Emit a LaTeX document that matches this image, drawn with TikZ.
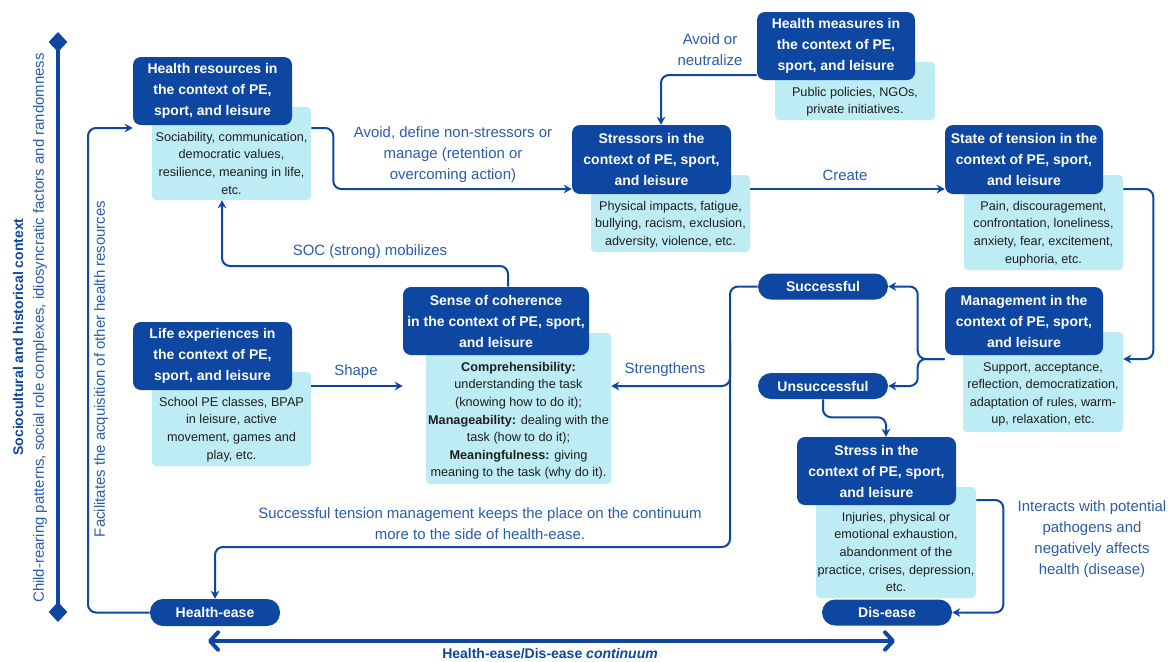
\documentclass[tikz,border=0pt]{standalone}
\usepackage{fontspec}
\setmainfont{Liberation Sans}
\usetikzlibrary{arrows,arrows.meta,shapes,positioning}
\definecolor{darkblue}{HTML}{0D47A1}
\definecolor{paleblue}{HTML}{BEECF5}
\definecolor{labelblue}{HTML}{2A5CAA}
\definecolor{bodygray}{HTML}{1E1E1E}
\newcommand\headfont{\fontsize{10.5}{15.75}\selectfont\bfseries}
\newcommand\bodyfont{\fontsize{9.5}{13.2}\selectfont}
\newcommand\labfont{\fontsize{11.2}{15.75}\selectfont}

\begin{document}
\begin{tikzpicture}[x=0.75pt, y=-0.75pt]
				\tikzstyle{arrow}=[draw=darkblue, line width=1.5pt, rounded corners=6pt, -{Stealth[length=6pt,width=6.5pt]}]
				\tikzstyle{head}=[fill=darkblue, text=white, rounded corners=6pt, align=center, font=\headfont, minimum width=119.25pt, minimum height=51pt, inner sep=1pt]
				\tikzstyle{info}=[fill=paleblue, rounded corners=3pt, minimum width=119.25pt, inner sep=0pt]
				\tikzstyle{detail}=[anchor=north, align=center, font=\bodyfont, text=bodygray, inner sep=0pt, yshift=-5pt]
				\tikzstyle{pill}=[fill=darkblue, text=white, rounded corners=9.75pt, font=\headfont, minimum width=97.5pt, minimum height=19.5pt, inner sep=0pt]
				\tikzstyle{lab}=[text=labelblue, align=center, font=\labfont, inner sep=0pt]
				\newcommand\XAxis{58}
				\newcommand\YTopRow{189}

				\useasboundingbox (0,0) rectangle (1170,661);

				% Context axis
				\coordinate (axtop) at (\XAxis,32);
				\coordinate (axbot) at (\XAxis,622);
				\draw [darkblue, line width=3pt, {Diamond[length=15pt,width=14pt]}-{Diamond[length=15pt,width=14pt]}] (axtop) -- (axbot);
				\node [rotate=90, text=darkblue, font=\headfont, inner sep=0pt] at (18,337) (ctxtitle) {Sociocultural and historical context};
				\node [rotate=90, lab] at (40,328) (ctxtext) {Child-rearing patterns, social role complexes, idiosyncratic factors and randomness};
				\node [rotate=90, lab] at (101,369) (faclab) {Facilitates the acquisition of other health resources};

				% Health resources
				\node [info, minimum height=69.75pt] at (231.5,153.5) (hrl) {};
				\node [head] at (212.5,91) (hr) {Health resources in\\the context of PE,\\sport, and leisure};
				\node [detail] at (hrl.center |- hr.south) (hrd) {Sociability, communication,\\democratic values,\\resilience, meaning in life,\\etc.};

				% Stressors
				\node [info, minimum height=57.75pt] at (670.5,213.5) (stl) {};
				\node [head, minimum height=51.75pt] at (651.5,159.5) (st) {Stressors in the\\context of PE, sport,\\and leisure};
				\node [detail] at (stl.center |- st.south) (std) {Physical impacts, fatigue,\\bullying, racism, exclusion,\\adversity, violence, etc.};

				% Health measures
				\node [info, minimum width=120pt, minimum height=43.5pt] at (855,91) (hml) {};
				\node [head, minimum width=118.5pt] at (836,46) (hm) {Health measures in\\the context of PE,\\sport, and leisure};
				\node [detail] at (hml.center |- hm.south) (hmd) {Public policies, NGOs,\\private initiatives.};

				% State of tension
				\node [info, minimum height=71.25pt] at (1043.5,222.5) (tsl) {};
				\node [head, minimum width=118.5pt, minimum height=51.75pt] at (1024,159.5) (ts) {State of tension in the\\context of PE, sport,\\and leisure};
				\node [detail] at (tsl.center |- ts.south) (tsd) {Pain, discouragement,\\confrontation, loneliness,\\anxiety, fear, excitement,\\euphoria, etc.};

				% Management
				\node [info, minimum width=120pt, minimum height=75pt] at (1043,382) (mgl) {};
				\node [head, minimum width=118.5pt] at (1024,321) (mg) {Management in the\\context of PE, sport,\\and leisure};
				\node [detail] at (mgl.center |- mg.south) (mgd) {Support, acceptance,\\reflection, democratization,\\adaptation of rules, warm-\\up, relaxation, etc.};

				% Stress
				\node [info, minimum width=120pt, minimum height=83.25pt] at (896,542.5) (srl) {};
				\node [head] at (876.5,471) (sr) {Stress in the\\context of PE, sport,\\and leisure};
				\node [detail] at (srl.center |- sr.south) (srd) {Injuries, physical or\\emotional exhaustion,\\abandonment of the\\practice, crises, depression,\\etc.};

				% Sense of coherence
				\node [info, minimum width=138.75pt, minimum height=113.25pt] at (518.5,408.5) (socl) {};
				\node [head, minimum width=139.5pt] at (496,321) (soc) {Sense of coherence\\in the context of PE, sport,\\and leisure};
				\node [detail] at (socl.center |- soc.south) (socd) {\textbf{Comprehensibility:}\\understanding the task\\(knowing how to do it);\\\textbf{Manageability:} dealing with the\\task (how to do it);\\\textbf{Meaningfulness:} giving\\meaning to the task (why do it).};

				% Life experiences
				\node [info, minimum height=70.5pt] at (231.5,419) (lel) {};
				\node [head] at (212.5,356) (le) {Life experiences in\\the context of PE,\\sport, and leisure};
				\node [detail] at (lel.center |- le.south) (led) {School PE classes, BPAP\\in leisure, active\\movement, games and\\play, etc.};

				% Outcomes
				\node [pill] at (823,286.5) (succ) {Successful};
				\node [pill] at (823,386) (unsucc) {Unsuccessful};
				\node [pill, minimum height=20.25pt] at (215,612.5) (he) {Health-ease};
				\node [pill] at (887,612.5) (dis) {Dis-ease};

				% Labels
				\node [lab] at (453,155) (avoidlab) {Avoid, define non-stressors or\\manage (retention or\\overcoming action)};
				\node [lab] at (710,50) (neutlab) {Avoid or\\neutralize};
				\node [lab] at (845,175) (createlab) {Create};
				\node [lab] at (370,252) (moblab) {SOC (strong) mobilizes};
				\node [lab] at (356,372) (shapelab) {Shape};
				\node [lab] at (665,370) (strlab) {Strengthens};
				\node [lab] at (480,524) (keeplab) {Successful tension management keeps the place on the continuum\\more to the side of health-ease.};
				\node [lab] at (1092,539) (interlab) {Interacts with potential\\pathogens and\\negatively affects\\health (disease)};

				% Path Arrows
				\path [arrow] (hrl.east |- 0,128) -- ++(22,0) |- (st.west |- 0,\YTopRow);
				\path [arrow] (hm.west |- 0,75) -| (661,0 |- st.north);
				\path [arrow] (stl.east |- 0,\YTopRow) -- (ts.west |- 0,\YTopRow);
				\path [arrow] (tsl.east |- 0,\YTopRow) -- ++(30,0) |- (mgl.east |- 0,359);
				\path [arrow] (mg.west |- 0,359) -- ++(-27,0) |- (succ.east);
				\path [arrow] (mg.west |- 0,359) -- ++(-27,0) |- (unsucc.east);
				\path [arrow] (unsucc.south) -- ++(0,18) -| (886,0 |- sr.north);
				\path [arrow] (srl.east |- 0,500) -- ++(27,0) |- (dis.east);
				\path [arrow] (succ.west) -| (730,547) -| (he.north);
				\coordinate (split) at (730,340);
				\path [arrow] (split) |- (socl.east |- 0,386);
				\path [arrow] (soc.north -| 508,0) |- (222,266) -- (hrl.south -| 222,0);
				\path [arrow] (lel.east |- 0,386) -- (soc.west |- 0,386);
				\path [arrow] (he.west) -| (88,128) -- (hr.west |- 0,128);

				% Continuum
				\coordinate (contl) at (208,641);
				\coordinate (contr) at (895,641);
				\draw [darkblue, line width=3pt, {Straight Barb[length=6pt,width=13pt,round]}-{Straight Barb[length=6pt,width=13pt,round]}] (contl) -- (contr);
				\node [text=darkblue, font=\headfont, inner sep=0pt] at (550,654) (contlab) {Health-ease/Dis-ease \textit{continuum}};
\end{tikzpicture}
\end{document}
